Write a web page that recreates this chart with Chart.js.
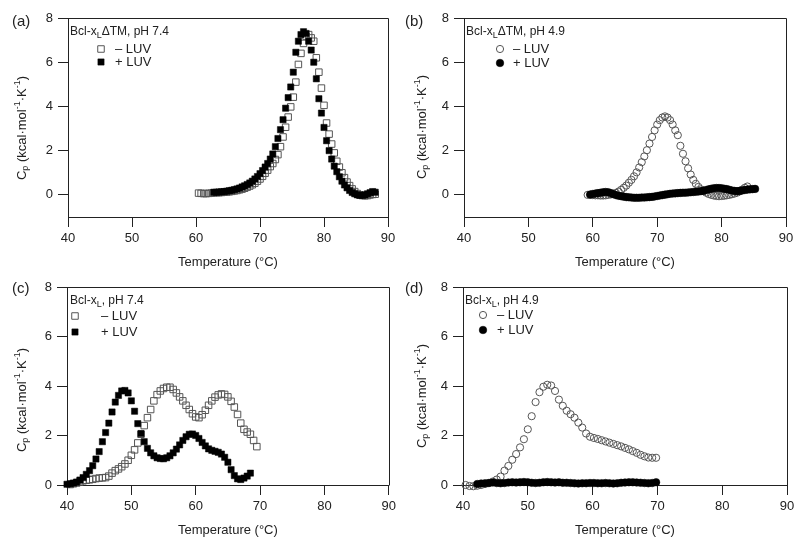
<!DOCTYPE html>
<html>
<head>
<meta charset="utf-8">
<script src="https://cdn.jsdelivr.net/npm/chart.js@4.4.1/dist/chart.umd.min.js"></script>
<style>
  html, body { margin: 0; padding: 0; background: #fff; }
  #wrap { position: relative; width: 800px; height: 546px; overflow: hidden; }
  canvas { position: absolute; }
</style>
</head>
<body>
<div id="wrap">
  <canvas id="pa" width="400" height="273" style="left:0;top:0"></canvas>
  <canvas id="pb" width="400" height="273" style="left:400px;top:0"></canvas>
  <canvas id="pc" width="400" height="273" style="left:0;top:273px"></canvas>
  <canvas id="pd" width="400" height="273" style="left:400px;top:273px"></canvas>
</div>
<script>
// axis ticks
const xTicks = [40, 50, 60, 70, 80, 90];
const yTicks = [0, 2, 4, 6, 8];

// (a) Bcl-xL dTM, pH 7.4
const tempA_minus = [60.4,60.8,61.2,61.6,62.0,62.4,62.8,63.2,63.6,64.0,64.4,64.8,65.2,65.6,66.0,66.4,66.8,67.2,67.6,68.0,68.4,68.8,69.2,69.6,70.0,70.4,70.8,71.2,71.6,72.0,72.4,72.8,73.2,73.6,74.0,74.4,74.8,75.2,75.6,76.0,76.4,76.8,77.2,77.6,78.0,78.4,78.8,79.2,79.6,80.0,80.4,80.8,81.2,81.6,82.0,82.4,82.8,83.2,83.6,84.0,84.4,84.8,85.2,85.6,86.0,86.4,86.8,87.2,87.6,88.0];
const cpA_minus = [0.08,0.07,0.06,0.06,0.07,0.08,0.09,0.10,0.10,0.11,0.12,0.13,0.14,0.16,0.18,0.20,0.23,0.26,0.30,0.35,0.40,0.46,0.53,0.62,0.72,0.84,0.98,1.12,1.28,1.42,1.60,1.82,2.18,2.62,3.06,3.52,3.98,4.42,5.10,5.90,6.40,6.85,7.18,7.25,7.10,6.95,6.20,5.55,4.83,4.05,3.25,2.75,2.30,1.90,1.52,1.26,1.00,0.78,0.58,0.42,0.27,0.15,0.06,0.00,-0.03,-0.04,-0.03,0.00,0.02,0.03];
const tempA_plus = [62.8,63.2,63.6,64.0,64.4,64.8,65.2,65.6,66.0,66.4,66.8,67.2,67.6,68.0,68.4,68.8,69.2,69.6,70.0,70.4,70.8,71.2,71.6,72.0,72.4,72.8,73.2,73.6,74.0,74.4,74.8,75.2,75.6,76.0,76.4,76.8,77.2,77.6,78.0,78.4,78.8,79.2,79.6,80.0,80.4,80.8,81.2,81.6,82.0,82.4,82.8,83.2,83.6,84.0,84.4,84.8,85.2,85.6,86.0,86.4,86.8,87.2,87.6,88.0];
const cpA_plus = [0.12,0.12,0.13,0.14,0.15,0.17,0.19,0.21,0.24,0.27,0.31,0.36,0.41,0.47,0.54,0.62,0.72,0.83,0.96,1.10,1.26,1.42,1.62,1.85,2.18,2.55,2.95,3.40,3.92,4.40,4.88,5.55,6.45,6.95,7.25,7.38,7.30,6.95,6.55,6.00,5.25,4.35,3.70,3.05,2.45,2.00,1.62,1.30,1.05,0.82,0.62,0.45,0.32,0.20,0.11,0.05,0.00,-0.02,-0.02,0.00,0.05,0.10,0.15,0.12];

// (b) Bcl-xL dTM, pH 4.9
const tempB_minus = [59.2,59.6,60.0,60.4,60.8,61.2,61.6,62.0,62.4,62.8,63.2,63.6,64.0,64.4,64.8,65.2,65.6,66.0,66.4,66.8,67.2,67.6,68.0,68.4,68.8,69.2,69.6,70.0,70.4,70.8,71.2,71.6,72.0,72.4,72.8,73.2,73.6,74.0,74.4,74.8,75.2,75.6,76.0,76.4,76.8,77.2,77.6,78.0,78.4,78.8,79.2,79.6,80.0,80.4,80.8,81.2,81.6,82.0,82.4,82.8,83.2,83.6,84.0];
const cpB_minus = [0.00,0.00,-0.01,-0.02,-0.02,-0.03,-0.03,-0.02,0.00,0.02,0.05,0.09,0.15,0.23,0.32,0.42,0.55,0.68,0.84,1.02,1.24,1.48,1.74,2.02,2.32,2.62,2.92,3.18,3.38,3.50,3.55,3.50,3.38,3.18,2.92,2.70,2.22,1.86,1.52,1.20,0.92,0.68,0.50,0.36,0.25,0.17,0.10,0.04,0.00,-0.03,-0.05,-0.06,-0.05,-0.04,-0.02,0.00,0.03,0.06,0.10,0.16,0.24,0.32,0.38];
const tempB_plus = [59.6,60.0,60.4,60.8,61.2,61.6,62.0,62.4,62.8,63.2,63.6,64.0,64.4,64.8,65.2,65.6,66.0,66.4,66.8,67.2,67.6,68.0,68.4,68.8,69.2,69.6,70.0,70.4,70.8,71.2,71.6,72.0,72.4,72.8,73.2,73.6,74.0,74.4,74.8,75.2,75.6,76.0,76.4,76.8,77.2,77.6,78.0,78.4,78.8,79.2,79.6,80.0,80.4,80.8,81.2,81.6,82.0,82.4,82.8,83.2,83.6,84.0,84.4,84.8,85.2];
const cpB_plus = [0.02,0.04,0.06,0.08,0.10,0.12,0.13,0.12,0.08,0.03,-0.01,-0.04,-0.06,-0.08,-0.10,-0.11,-0.12,-0.13,-0.13,-0.13,-0.12,-0.12,-0.11,-0.10,-0.09,-0.07,-0.05,-0.03,-0.01,0.01,0.03,0.05,0.06,0.07,0.08,0.09,0.10,0.10,0.11,0.12,0.13,0.14,0.15,0.17,0.19,0.22,0.25,0.28,0.30,0.31,0.31,0.30,0.28,0.26,0.23,0.20,0.18,0.17,0.18,0.20,0.22,0.24,0.25,0.26,0.27];

// (c) Bcl-xL, pH 7.4
const tempC_minus = [40.5,41.0,41.5,42.0,42.5,43.0,43.5,44.0,44.5,45.0,45.5,46.0,46.5,47.0,47.5,48.0,48.5,49.0,49.5,50.0,50.5,51.0,51.5,52.0,52.5,53.0,53.5,54.0,54.5,55.0,55.5,56.0,56.5,57.0,57.5,58.0,58.5,59.0,59.5,60.0,60.5,61.0,61.5,62.0,62.5,63.0,63.5,64.0,64.5,65.0,65.5,66.0,66.5,67.0,67.5,68.0,68.5,69.0,69.5];
const cpC_minus = [0.02,0.05,0.08,0.12,0.17,0.19,0.21,0.23,0.26,0.28,0.29,0.30,0.36,0.48,0.58,0.65,0.74,0.85,1.00,1.20,1.42,1.70,2.05,2.40,2.72,3.05,3.40,3.65,3.80,3.90,3.95,3.95,3.86,3.72,3.56,3.40,3.22,3.05,2.88,2.75,2.72,2.84,3.02,3.22,3.40,3.55,3.64,3.68,3.66,3.56,3.38,3.15,2.85,2.50,2.25,2.14,2.05,1.80,1.55];
const tempC_plus = [40.0,40.5,41.0,41.5,42.0,42.5,43.0,43.5,44.0,44.5,45.0,45.5,46.0,46.5,47.0,47.5,48.0,48.5,49.0,49.5,50.0,50.5,51.0,51.5,52.0,52.5,53.0,53.5,54.0,54.5,55.0,55.5,56.0,56.5,57.0,57.5,58.0,58.5,59.0,59.5,60.0,60.5,61.0,61.5,62.0,62.5,63.0,63.5,64.0,64.5,65.0,65.5,66.0,66.5,67.0,67.5,68.0,68.5];
const cpC_plus = [0.03,0.05,0.08,0.12,0.20,0.30,0.43,0.58,0.78,1.05,1.35,1.75,2.12,2.50,2.95,3.35,3.62,3.80,3.82,3.72,3.40,2.98,2.48,2.08,1.75,1.48,1.30,1.18,1.10,1.07,1.06,1.10,1.18,1.30,1.45,1.62,1.80,1.95,2.05,2.06,2.00,1.88,1.72,1.58,1.46,1.40,1.36,1.32,1.25,1.12,0.92,0.62,0.38,0.25,0.22,0.28,0.36,0.48];

// (d) Bcl-xL, pH 4.9
const tempD_minus = [40.4,41.0,41.6,42.2,42.8,43.4,44.0,44.6,45.2,45.8,46.4,47.0,47.6,48.2,48.8,49.4,50.0,50.6,51.2,51.8,52.4,53.0,53.6,54.2,54.8,55.4,56.0,56.6,57.2,57.8,58.4,59.0,59.6,60.2,60.8,61.4,62.0,62.6,63.2,63.8,64.4,65.0,65.6,66.2,66.8,67.4,68.0,68.6,69.2,69.8];
const cpD_minus = [0.00,-0.04,-0.05,-0.03,0.00,0.04,0.08,0.14,0.22,0.34,0.58,0.77,1.02,1.25,1.52,1.85,2.25,2.78,3.35,3.75,3.97,4.05,4.02,3.80,3.45,3.20,3.00,2.86,2.72,2.52,2.32,2.08,1.95,1.90,1.86,1.81,1.76,1.71,1.66,1.61,1.56,1.50,1.44,1.37,1.30,1.22,1.16,1.11,1.10,1.10];
const tempD_plus = [42.2,42.8,43.4,44.0,44.6,45.2,45.8,46.4,47.0,47.6,48.2,48.8,49.4,50.0,50.6,51.2,51.8,52.4,53.0,53.6,54.2,54.8,55.4,56.0,56.6,57.2,57.8,58.4,59.0,59.6,60.2,60.8,61.4,62.0,62.6,63.2,63.8,64.4,65.0,65.6,66.2,66.8,67.4,68.0,68.6,69.2,69.8];
const cpD_plus = [0.04,0.06,0.07,0.08,0.10,0.08,0.07,0.08,0.10,0.11,0.10,0.11,0.12,0.11,0.09,0.08,0.09,0.11,0.12,0.11,0.10,0.11,0.09,0.09,0.08,0.07,0.06,0.07,0.07,0.08,0.08,0.07,0.07,0.08,0.07,0.06,0.07,0.09,0.10,0.11,0.11,0.10,0.09,0.08,0.07,0.08,0.11];

const FONT = '"Liberation Sans", Arial, sans-serif';
const INK = '#222';

const styles = {
  openSquare: { pointStyle: 'rect', pointRadius: 4.6, pointBackgroundColor: 'rgba(255,255,255,0)', pointBorderColor: '#555', pointBorderWidth: 1 },
  fillSquare: { pointStyle: 'rect', pointRadius: 4.4, pointBackgroundColor: '#000', pointBorderColor: '#000', pointBorderWidth: 0.5 },
  openCircle: { pointStyle: 'circle', pointRadius: 3.6, pointBackgroundColor: 'rgba(255,255,255,0)', pointBorderColor: '#555', pointBorderWidth: 1 },
  fillCircle: { pointStyle: 'circle', pointRadius: 3.8, pointBackgroundColor: '#000', pointBorderColor: '#000', pointBorderWidth: 0.5 }
};

function pts(xs, ys) {
  return xs.map((x, i) => ({ x: x, y: ys[i] }));
}

function drawMarker(ctx, st, x, y) {
  ctx.save();
  ctx.fillStyle = st.pointBackgroundColor;
  ctx.strokeStyle = st.pointBorderColor;
  ctx.lineWidth = st.pointBorderWidth;
  ctx.beginPath();
  if (st.pointStyle === 'rect') {
    const s = st.pointRadius * Math.SQRT1_2;
    ctx.rect(x - s, y - s, 2 * s, 2 * s);
  } else {
    ctx.arc(x, y, st.pointRadius, 0, Math.PI * 2);
  }
  ctx.fill();
  ctx.stroke();
  ctx.restore();
}

// text pieces: [text, kind] kind: n normal, b sub, p super
function drawRich(ctx, parts, x, y, size) {
  let cx = x;
  parts.forEach(([t, k]) => {
    const sz = k === 'n' ? size : Math.round(size * 0.72);
    ctx.font = sz + 'px ' + FONT;
    const dy = k === 'b' ? size * 0.3 : (k === 'p' ? -size * 0.35 : 0);
    ctx.fillText(t, cx, y + dy);
    cx += ctx.measureText(t).width;
  });
  return cx - x;
}
function richWidth(ctx, parts, size) {
  let w = 0;
  parts.forEach(([t, k]) => {
    const sz = k === 'n' ? size : Math.round(size * 0.72);
    ctx.font = sz + 'px ' + FONT;
    w += ctx.measureText(t).width;
  });
  return w;
}

const decor = {
  id: 'decor',
  afterDraw(chart, args, o) {
    const ctx = chart.ctx;
    const a = chart.chartArea;
    ctx.save();
    // top and right frame lines
    ctx.strokeStyle = INK;
    ctx.lineWidth = 1;
    ctx.beginPath();
    ctx.moveTo(Math.round(a.left) + 0.5, Math.round(a.top) + 0.5);
    ctx.lineTo(Math.round(a.right) + 0.5, Math.round(a.top) + 0.5);
    ctx.lineTo(Math.round(a.right) + 0.5, Math.round(a.bottom) + 0.5);
    ctx.stroke();

    ctx.fillStyle = INK;
    ctx.textBaseline = 'middle';
    ctx.textAlign = 'left';
    // panel letter
    ctx.font = '15px ' + FONT;
    ctx.fillText(o.letter, o.letterX, o.letterY);

    // legend heading
    drawRich(ctx, o.heading, o.headX, o.headY, 12);
    // legend entries
    o.entries.forEach((e, i) => {
      const st = chart.data.datasets[e.ds];
      drawMarker(ctx, st, o.markX, o.rowY[i]);
      ctx.fillStyle = INK;
      ctx.font = '13px ' + FONT;
      ctx.fillText(e.label, o.textX, o.rowY[i]);
    });

    // y-axis title, rotated
    const yParts = [['C', 'n'], ['p', 'b'], [' (kcal\u00b7mol', 'n'], ['-1', 'p'], ['\u00b7K', 'n'], ['-1', 'p'], [')', 'n']];
    const w = richWidth(ctx, yParts, 13);
    ctx.translate(o.ytX, o.ytY);
    ctx.rotate(-Math.PI / 2);
    drawRich(ctx, yParts, -w / 2, 0, 13);
    ctx.restore();
  }
};

function panel(id, sets, p) {
  const datasets = sets.map(s => Object.assign({
    data: pts(s.x, s.y),
    showLine: false,
    clip: false
  }, styles[s.style]));
  return new Chart(document.getElementById(id), {
    type: 'scatter',
    data: { datasets: datasets },
    options: {
      responsive: false,
      animation: false,
      devicePixelRatio: 1,
      layout: { padding: { left: 0, top: p.top, right: p.right, bottom: 0 } },
      plugins: { legend: { display: false }, tooltip: { enabled: false }, decor: p.decor },
      scales: {
        x: {
          type: 'linear', min: 40, max: 90,
          afterBuildTicks: s => { s.ticks = xTicks.map(v => ({ value: v })); },
          afterFit: s => { s.height = p.xh; },
          grid: { display: true, drawOnChartArea: false, drawTicks: true, tickLength: 10, color: INK, lineWidth: 1 },
          border: { display: true, color: INK, width: 1 },
          ticks: { color: INK, font: { family: FONT, size: 13 }, padding: 4, maxRotation: 0, autoSkip: false },
          title: { display: true, text: 'Temperature (\u00b0C)', color: INK, font: { family: FONT, size: 13 }, padding: { top: 0, bottom: p.tpad } }
        },
        y: {
          type: 'linear', min: p.ymin, max: 8,
          afterBuildTicks: s => { s.ticks = yTicks.map(v => ({ value: v })); },
          afterFit: s => { s.width = p.yw; },
          grid: { display: true, drawOnChartArea: false, drawTicks: true, tickLength: 10, color: INK, lineWidth: 1 },
          border: { display: true, color: INK, width: 1 },
          ticks: { color: INK, font: { family: FONT, size: 13 }, padding: 5 }
        }
      }
    },
    plugins: [decor]
  });
}

panel('pa', [
  { x: tempA_plus, y: cpA_plus, style: 'fillSquare' },
  { x: tempA_minus, y: cpA_minus, style: 'openSquare' }
], {
  top: 18, right: 12, xh: 56, yw: 68, ymin: -1, tpad: 3,
  decor: {
    letter: '(a)', letterX: 12, letterY: 22,
    heading: [['Bcl-x', 'n'], ['L', 'b'], ['\u0394TM, pH 7.4', 'n']], headX: 70, headY: 32,
    entries: [{ ds: 1, label: '\u2013 LUV' }, { ds: 0, label: '+ LUV' }],
    markX: 101, textX: 115, rowY: [49, 62],
    ytX: 22, ytY: 128
  }
});

panel('pb', [
  { x: tempB_plus, y: cpB_plus, style: 'fillCircle' },
  { x: tempB_minus, y: cpB_minus, style: 'openCircle' }
], {
  top: 18, right: 14, xh: 56, yw: 64, ymin: -1, tpad: 3,
  decor: {
    letter: '(b)', letterX: 5, letterY: 22,
    heading: [['Bcl-x', 'n'], ['L', 'b'], ['\u0394TM, pH 4.9', 'n']], headX: 66, headY: 32,
    entries: [{ ds: 1, label: '\u2013 LUV' }, { ds: 0, label: '+ LUV' }],
    markX: 100, textX: 113, rowY: [49, 63],
    ytX: 22, ytY: 127
  }
});

panel('pc', [
  { x: tempC_plus, y: cpC_plus, style: 'fillSquare' },
  { x: tempC_minus, y: cpC_minus, style: 'openSquare' }
], {
  top: 14, right: 10, xh: 61, yw: 67, ymin: 0, tpad: 8,
  decor: {
    letter: '(c)', letterX: 12, letterY: 16,
    heading: [['Bcl-x', 'n'], ['L', 'b'], [', pH 7.4', 'n']], headX: 70, headY: 28,
    entries: [{ ds: 1, label: '\u2013 LUV' }, { ds: 0, label: '+ LUV' }],
    markX: 75, textX: 101, rowY: [43, 59],
    ytX: 22, ytY: 127
  }
});

panel('pd', [
  { x: tempD_plus, y: cpD_plus, style: 'fillCircle' },
  { x: tempD_minus, y: cpD_minus, style: 'openCircle' }
], {
  top: 14, right: 13, xh: 61, yw: 63, ymin: 0, tpad: 8,
  decor: {
    letter: '(d)', letterX: 5, letterY: 16,
    heading: [['Bcl-x', 'n'], ['L', 'b'], [', pH 4.9', 'n']], headX: 65, headY: 28,
    entries: [{ ds: 1, label: '\u2013 LUV' }, { ds: 0, label: '+ LUV' }],
    markX: 83, textX: 97, rowY: [42, 57],
    ytX: 22, ytY: 123
  }
});
</script>
</body>
</html>
